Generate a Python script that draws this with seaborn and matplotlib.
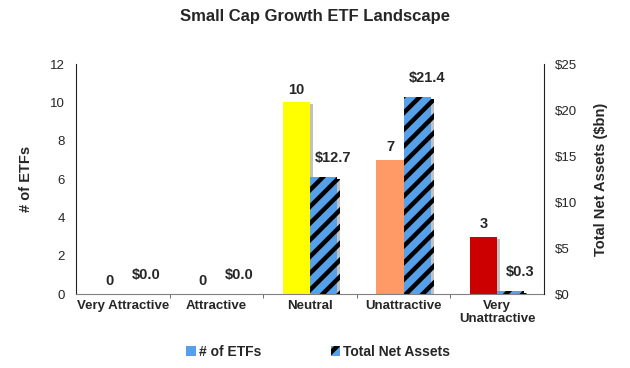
import matplotlib
matplotlib.use("Agg")
import matplotlib.pyplot as plt
import matplotlib.patheffects as pe
from matplotlib.patches import Patch
from matplotlib.ticker import FuncFormatter, MultipleLocator, FixedLocator
import seaborn as sns
import pandas as pd

categories = ["Very Attractive", "Attractive", "Neutral", "Unattractive", "Very\nUnattractive"]
etf_counts = [0, 0, 10, 7, 3]
net_assets = [0.0, 0.0, 12.7, 21.4, 0.3]
count_colors = ["#00A651", "#92D050", "#FFFF00", "#FF9966", "#CC0000"]
asset_color = "#55A0E8"

sns.set_style("white")
plt.rcParams["font.family"] = ["Liberation Sans", "DejaVu Sans"]
plt.rcParams["hatch.color"] = "black"
plt.rcParams["hatch.linewidth"] = 3.2

df = pd.DataFrame({"category": categories, "count": etf_counts, "assets": net_assets})

fig = plt.figure(figsize=(6.3, 3.68), dpi=100)
ax1 = fig.add_axes([0.1206, 0.201, 0.7429, 0.625])
ax2 = ax1.twinx()

bw = 0.29
sns.barplot(data=df, x="category", y="count", hue="category", palette=count_colors,
            legend=False, width=bw, saturation=1, ax=ax1)
sns.barplot(data=df, x="category", y="assets", color=asset_color,
            width=bw, saturation=1, ax=ax2)

shadow = [pe.SimplePatchShadow(offset=(2, -1.5), shadow_rgbFace="#999999", alpha=0.6), pe.Normal()]
for p in ax1.patches:
    p.set_x(p.get_x() - bw / 2)
    p.set_linewidth(0)
    p.set_path_effects(shadow)
for p in ax2.patches:
    p.set_x(p.get_x() + bw / 2)
    p.set_hatch("//")
    p.set_edgecolor("black")
    p.set_linewidth(0)
    p.set_path_effects(shadow)

ax1.set_ylim(0, 12)
ax2.set_ylim(0, 25)
ax1.set_xlim(-0.5, 4.5)
ax1.yaxis.set_major_locator(MultipleLocator(2))
ax2.yaxis.set_major_locator(MultipleLocator(5))
ax2.yaxis.set_major_formatter(FuncFormatter(lambda v, _: f"${v:.0f}"))

for p, v in zip(ax1.patches, etf_counts):
    ax1.annotate(f"{v:.0f}", (p.get_x() + p.get_width() / 2, p.get_height()),
                 xytext=(0, 4), textcoords="offset points", ha="center", va="bottom",
                 fontsize=10.5, fontweight="bold")
for p, v in zip(ax2.patches, net_assets):
    ax2.annotate(f"${v:.1f}", (p.get_x() + p.get_width() / 2, p.get_height()),
                 xytext=(7, 9), textcoords="offset points", ha="center", va="bottom",
                 fontsize=10.5, fontweight="bold")

ax1.set_xlabel("")
ax1.set_ylabel("# of ETFs", fontsize=10.5, fontweight="bold", labelpad=12)
ax2.set_ylabel("Total Net Assets ($bn)", fontsize=10.5, fontweight="bold", labelpad=12)
ax2.set_xlabel("")

ax1.set_xticks(range(len(categories)))
ax1.set_xticklabels(categories, fontsize=9.5, fontweight="bold")
ax1.tick_params(axis="x", which="major", length=0, pad=4)
ax1.xaxis.set_minor_locator(FixedLocator([0.5, 1.5, 2.5, 3.5]))
ax1.tick_params(axis="x", which="minor", length=3, color="#555555", direction="out", bottom=True)
ax1.tick_params(axis="y", labelsize=9.5, length=0, pad=8)
ax2.tick_params(axis="y", labelsize=9.5, length=0, pad=8)

for ax in (ax1, ax2):
    ax.spines["top"].set_visible(False)
    ax.spines["bottom"].set_color("#808080")
    ax.spines["left"].set_color("#222222")
    ax.spines["right"].set_color("#222222")
    ax.grid(False)
ax1.spines["right"].set_visible(False)
ax2.spines["left"].set_visible(False)
ax2.spines["bottom"].set_visible(False)

fig.suptitle("Small Cap Growth ETF Landscape", x=0.5, y=0.975, fontsize=12, fontweight="bold")

handles = [Patch(facecolor=asset_color, edgecolor="none"),
           Patch(facecolor=asset_color, edgecolor="black", hatch="//", linewidth=0)]
fig.legend(handles, ["# of ETFs", "Total Net Assets"], loc="center", bbox_to_anchor=(0.505, 0.043),
           ncol=2, frameon=False, prop={"weight": "bold", "size": 10}, handlelength=0.7,
           handleheight=0.7, handletextpad=0.2, columnspacing=5)

fig.savefig("out.png", dpi=100)
